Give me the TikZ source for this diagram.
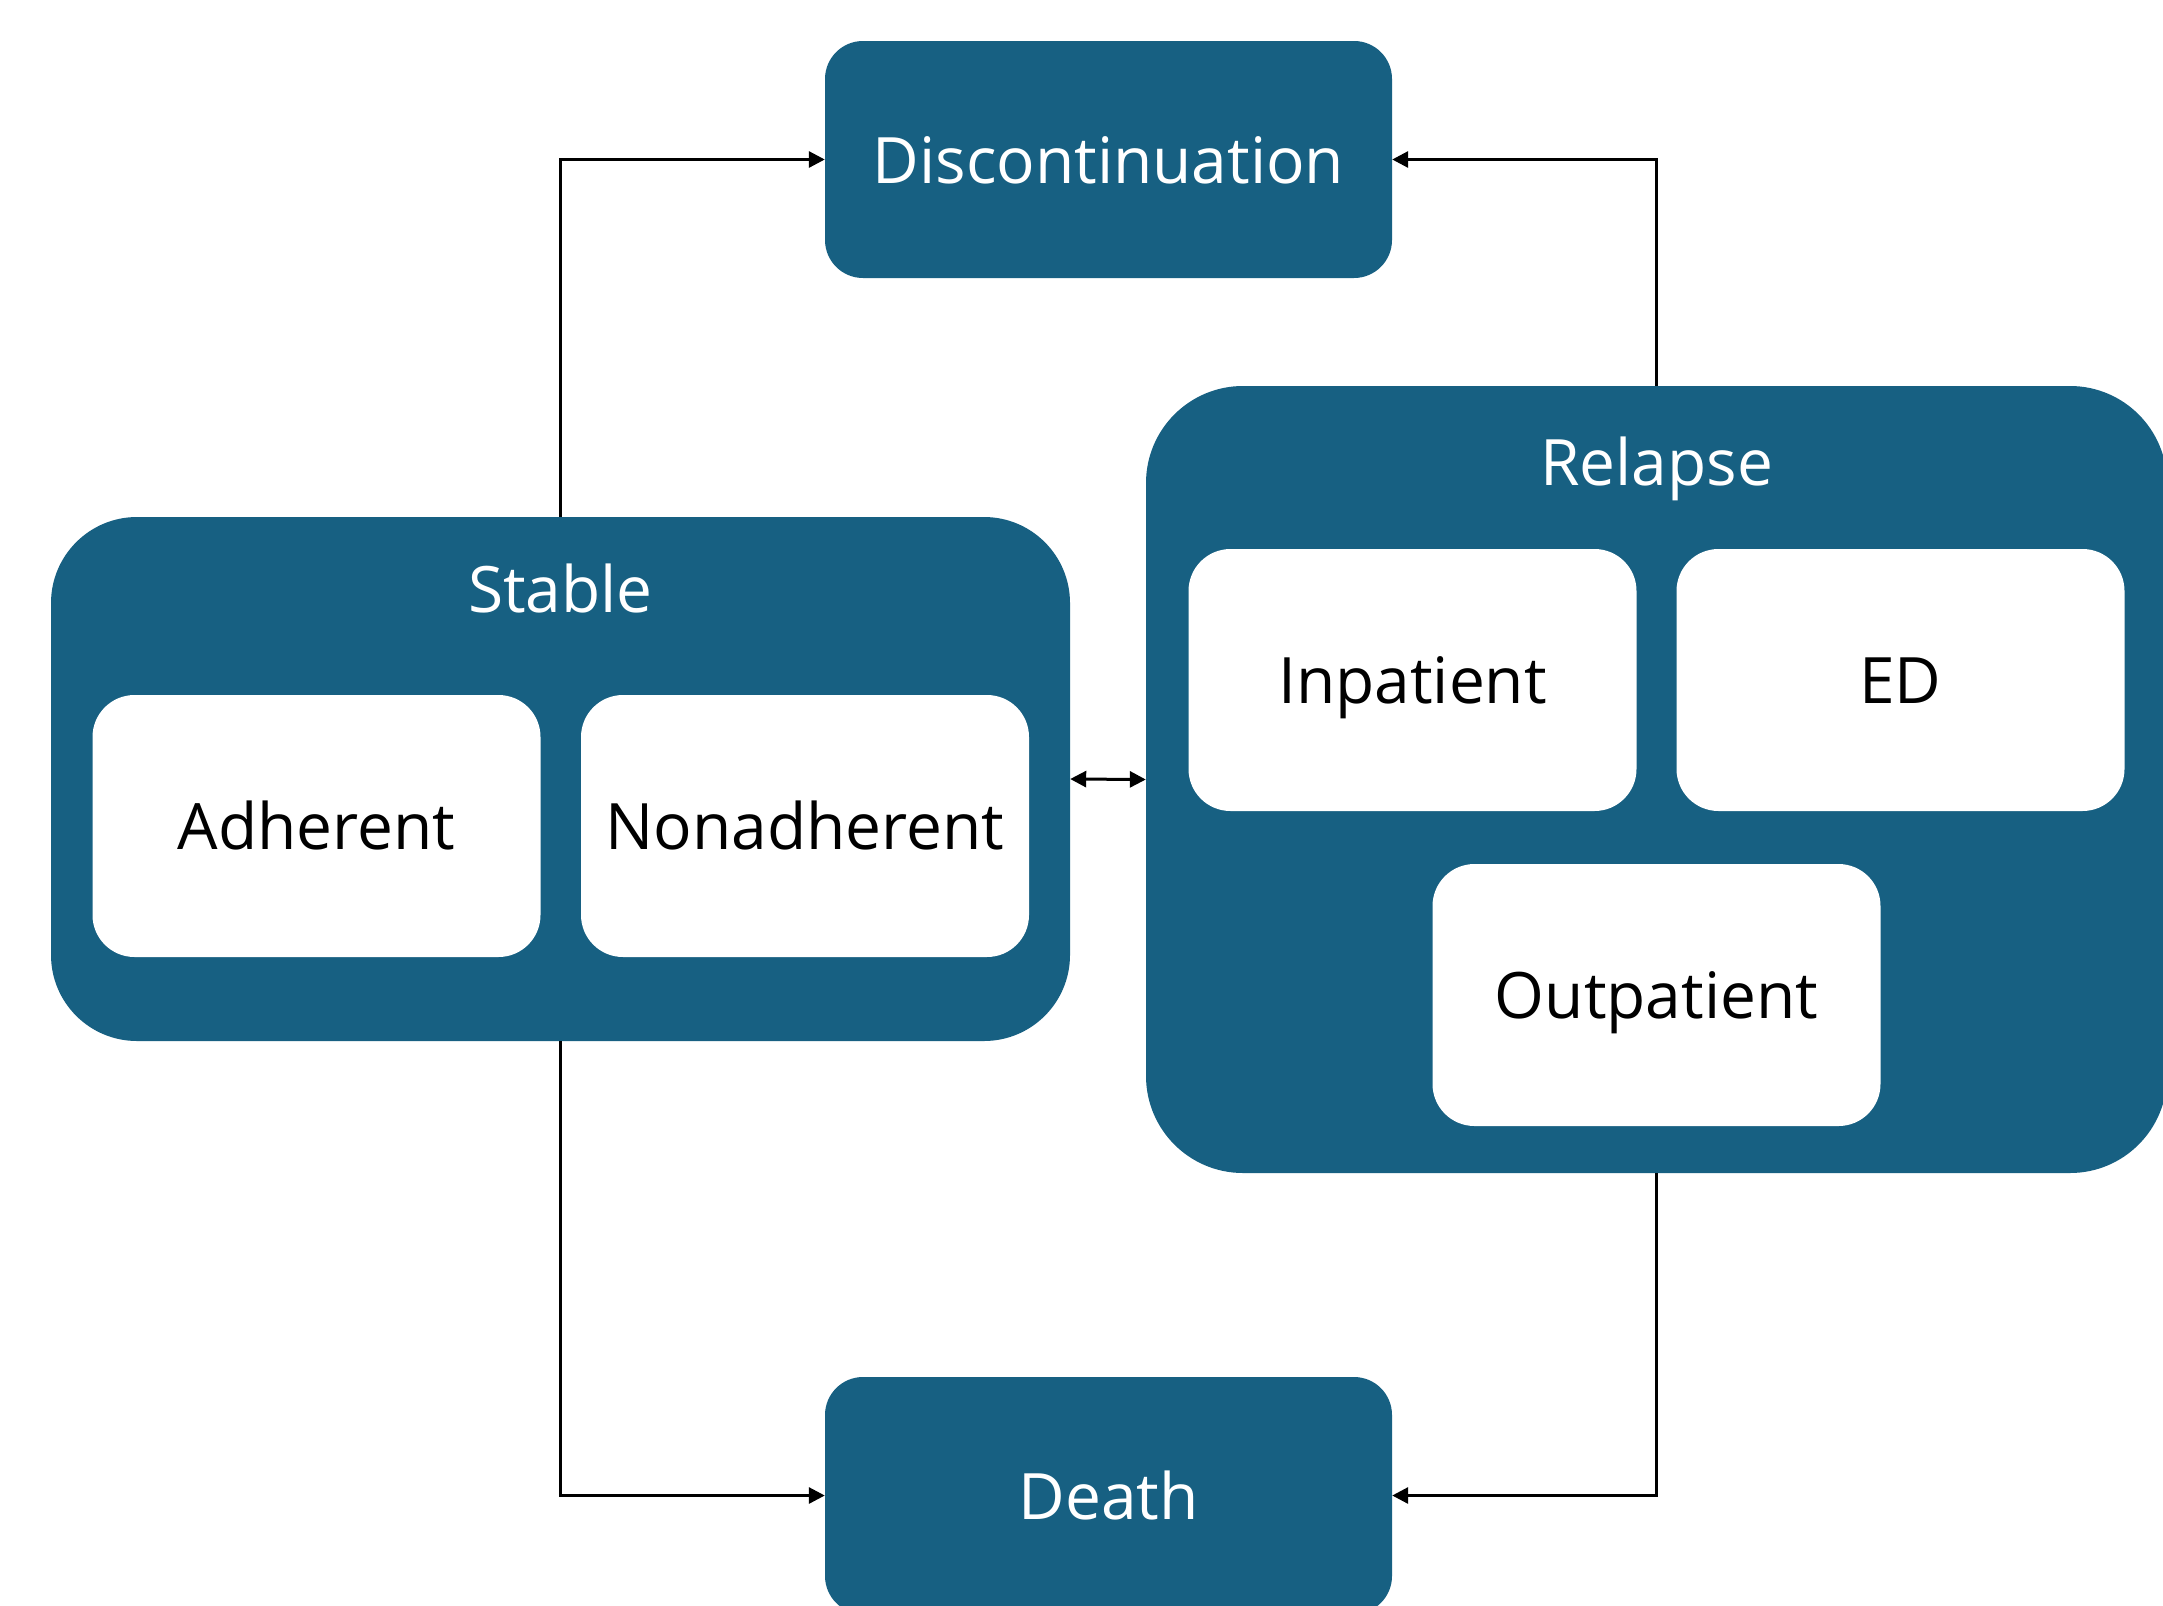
\documentclass[tikz,border=0pt]{standalone}
\usepackage{fontspec}
\setmainfont{Open Sans}
\usetikzlibrary{arrows.meta}
\definecolor{teal}{RGB}{23,96,130}
\tikzset{
  txt/.style={font=\fontsize{64}{77}\selectfont, text height=47pt, text depth=0pt},
  outerbox/.style={fill=teal, draw=none, rectangle, inner sep=0pt, anchor=center},
  innerbox/.style={fill=white, draw=none, rectangle, rounded corners=42pt, inner sep=0pt,
     minimum width=448pt, minimum height=262pt, anchor=center, txt, text=black},
  whitelabel/.style={text=white, txt, inner sep=0pt, anchor=center},
  arr/.style={draw=black, line width=3pt, -{Triangle[length=16pt,width=16pt]}},
  arrtwo/.style={draw=black, line width=3pt, {Triangle[length=16pt,width=16pt]}-{Triangle[length=16pt,width=16pt]}}
}
\begin{document}
\begin{tikzpicture}[x=1pt,y=-1pt]
\useasboundingbox (0,0) rectangle (2163,1606);
\clip (0,0) rectangle (2163,1606);
\fill[white] (0,0) rectangle (2163,1606);
% boxes
\node[outerbox, rounded corners=38pt, minimum width=567pt, minimum height=237pt, text=white, txt] (disc) at (1108.5,159.5) {Discontinuation};
\node[outerbox, rounded corners=38pt, minimum width=567pt, minimum height=237pt, text=white, txt] (death) at (1108.5,1495.5) {Death};
\node[outerbox, rounded corners=86pt, minimum width=1019pt, minimum height=524pt] (stable) at (560.5,779) {};
\node[outerbox, rounded corners=97pt, minimum width=1021pt, minimum height=787pt] (relapse) at (1656.5,779.5) {};
\node[whitelabel] (stablelbl) at (560.5,589) {Stable};
\node[whitelabel] (relapselbl) at (1656.5,462) {Relapse};
\node[innerbox] (adh) at (316.5,826) {Adherent};
\node[innerbox] (nonadh) at (805,826) {Nonadherent};
\node[innerbox] (inp) at (1412.5,680) {Inpatient};
\node[innerbox] (ed) at (1900.5,680) {ED};
\node[innerbox] (outp) at (1656.5,995) {Outpatient};
% connectors
\draw[arr] (stable.north) |- (disc.west);
\draw[arr] (relapse.north) |- (disc.east);
\draw[arr] (stable.south) |- (death.west);
\draw[arr] (relapse.south) |- (death.east);
\draw[arrtwo] (stable.east) -- (relapse.west);
\end{tikzpicture}
\end{document}
